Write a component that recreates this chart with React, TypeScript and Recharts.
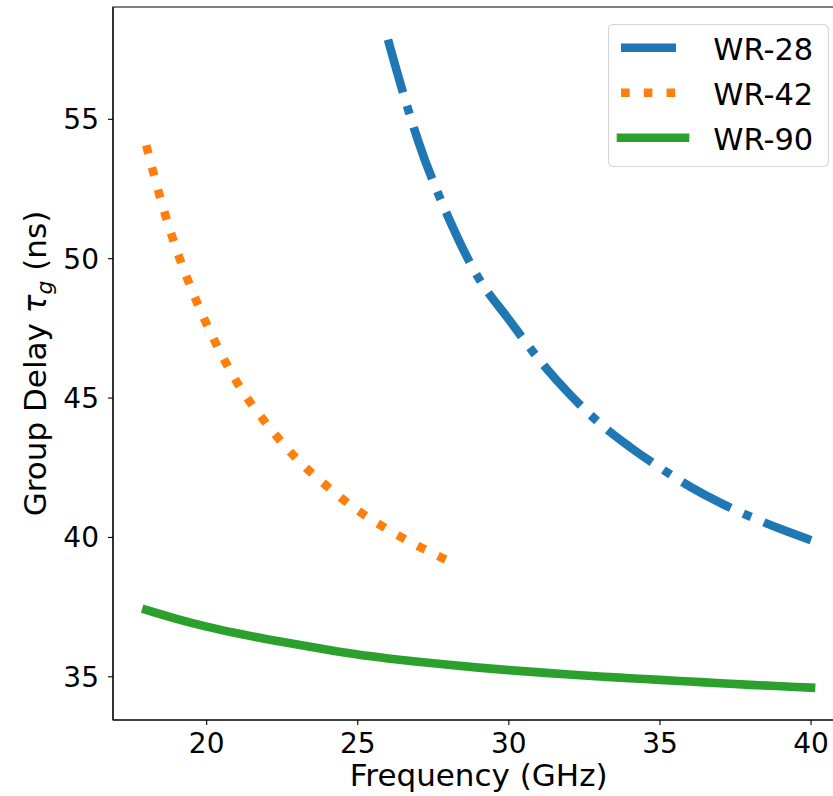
import { Label, Legend, Line, LineChart, ReferenceArea, XAxis, YAxis } from 'recharts';

// values (GHz -> ns)
const freqWR28 = [26, 26.5, 27, 28, 29, 30, 31, 32, 33, 34, 35, 36, 37, 38, 39, 40];
const delayWR28 = [57.86, 55.95, 54.22, 51.48, 49.3, 47.82, 46.38, 45.15, 44.1, 43.25, 42.5, 41.82, 41.24, 40.74, 40.3, 39.9];

const freqWR42 = [18, 18.5, 19, 19.5, 20, 21, 22, 23, 24, 25, 26, 27, 28];
const delayWR42 = [54.07, 52.05, 50.33, 48.9, 47.65, 45.57, 44.05, 42.8, 41.82, 40.97, 40.28, 39.69, 39.16];

const freqWR90 = [18, 19, 20, 21, 22, 23, 24, 25, 26, 27, 28, 29, 30, 31, 32, 33, 34, 35, 36, 37, 38, 39, 40];
const delayWR90 = [
  37.4, 37.08, 36.8, 36.56, 36.35, 36.16, 35.97, 35.8, 35.66, 35.54, 35.43, 35.33,
  35.24, 35.16, 35.08, 35.01, 34.95, 34.89, 34.83, 34.77, 34.71, 34.66, 34.61,
];

const xTicks = [20, 25, 30, 35, 40];
const yTicks = [35, 40, 45, 50, 55];
const xDomain: [number, number] = [16.9, 41.1];
const yDomain: [number, number] = [33.45, 59.03];

const LW = 8.6;
const FONT = 'DejaVu Sans';

const toPoints = (f: number[], d: number[]) => f.map((x, i) => ({ f: x, tau: d[i] }));

const series = [
  { name: 'WR-28', color: '#1f77b4', data: toPoints(freqWR28, delayWR28), dash: `55 ${LW * 1.6} ${LW} ${LW * 1.6}`, cap: 'butt' },
  { name: 'WR-42', color: '#ff7f0e', data: toPoints(freqWR42, delayWR42), dash: `${LW} ${LW * 1.65}`, cap: 'butt' },
  { name: 'WR-90', color: '#2ca02c', data: toPoints(freqWR90, delayWR90), dash: undefined, cap: 'square' },
];

function LegendBox() {
  return (
    <svg width={222} height={144} style={{ display: 'block' }}>
      <rect x={0.5} y={0.5} width={220} height={142} rx={5} fill="#fff" fillOpacity={0.8} stroke="#d5d5d5" strokeWidth={1.1} />
      {series.map((s, i) => (
        <g key={s.name}>
          <line
            x1={13}
            x2={77}
            y1={23.7 + i * 45}
            y2={23.7 + i * 45}
            stroke={s.color}
            strokeWidth={LW}
            strokeDasharray={s.dash}
            strokeLinecap={s.cap as any}
          />
          <text x={105.3} y={35.5 + i * 45} fontSize={30.5} fontFamily={FONT} fill="#000">
            {s.name}
          </text>
        </g>
      ))}
    </svg>
  );
}

export default function App() {
  return (
    <div style={{ position: 'absolute', left: 0, top: 0, width: 833, height: 796, overflow: 'hidden', background: '#fff' }}>
      <LineChart width={860} height={796} margin={{ top: 7, right: 15.7, left: 0, bottom: 0 }}>
        <XAxis
          type="number"
          dataKey="f"
          domain={xDomain}
          ticks={xTicks}
          allowDataOverflow
          height={76}
          tickSize={5}
          tickMargin={8}
          axisLine={{ stroke: '#000', strokeWidth: 1.1 }}
          tickLine={{ stroke: '#000', strokeWidth: 1.1 }}
          tick={{ fill: '#000', fontSize: 28, fontFamily: FONT }}
        >
          <Label
            content={({ viewBox }: any) => (
              <text x={viewBox.x + viewBox.width / 2} y={786} textAnchor="middle" fontSize={31} fontFamily={FONT} fill="#000">
                Frequency (GHz)
              </text>
            )}
          />
        </XAxis>
        <YAxis
          type="number"
          domain={yDomain}
          ticks={yTicks}
          allowDataOverflow
          width={113}
          tickSize={5}
          tickMargin={9}
          axisLine={{ stroke: '#000', strokeWidth: 1.1 }}
          tickLine={{ stroke: '#000', strokeWidth: 1.1 }}
          tick={{ fill: '#000', fontSize: 28, fontFamily: FONT }}
        >
          <Label
            content={({ viewBox }: any) => {
              const cy = viewBox.y + viewBox.height / 2;
              return (
                <text x={46} y={cy} transform={`rotate(-90, 46, ${cy})`} textAnchor="middle" fontSize={31} fontFamily={FONT} fill="#000">
                  Group Delay <tspan fontStyle="italic">τ</tspan>
                  <tspan fontStyle="italic" fontSize={22} dy={6}>g</tspan>
                  <tspan dy={-6}> (ns)</tspan>
                </text>
              );
            }}
          />
        </YAxis>
        <ReferenceArea x1={xDomain[0]} x2={xDomain[1]} y1={yDomain[0]} y2={yDomain[1]} fill="none" stroke="#000" strokeWidth={1.1} ifOverflow="visible" />
        {series.map((s) => (
          <Line
            key={s.name}
            data={s.data}
            dataKey="tau"
            name={s.name}
            type="monotone"
            stroke={s.color}
            strokeWidth={LW}
            strokeDasharray={s.dash}
            strokeLinecap={s.cap as any}
            dot={false}
            activeDot={false}
            isAnimationActive={false}
          />
        ))}
        <Legend
          layout="vertical"
          align="center"
          verticalAlign="middle"
          wrapperStyle={{ left: 608, top: 24, width: 222, height: 144 }}
          content={() => <LegendBox />}
        />
      </LineChart>
    </div>
  );
}
